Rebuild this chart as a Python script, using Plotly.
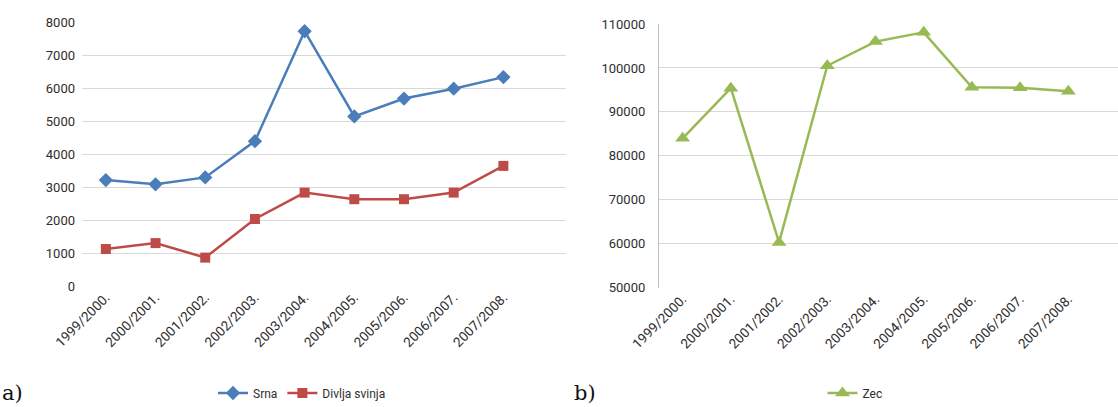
import plotly.graph_objects as go

seasons = ["1999/2000.", "2000/2001.", "2001/2002.", "2002/2003.", "2003/2004.",
           "2004/2005.", "2005/2006.", "2006/2007.", "2007/2008."]
srna = [3210, 3080, 3290, 4390, 7720, 5140, 5680, 5980, 6330]
divlja_svinja = [1120, 1300, 860, 2030, 2830, 2630, 2630, 2830, 3640]
zec = [84000, 95400, 60300, 100500, 106000, 108100, 95600, 95500, 94700]

left_ticks = [0, 1000, 2000, 3000, 4000, 5000, 6000, 7000, 8000]
right_ticks = [50000, 60000, 70000, 80000, 90000, 100000, 110000]

W, H = 1118, 407
FONT = "Roboto, 'Open Sans', sans-serif"
TICK_COL = "#2e2e2e"
GRID = "#d9d9d9"

fig = go.Figure()
fig.add_trace(go.Scatter(x=seasons, y=srna, name="Srna", mode="lines+markers",
                         line=dict(color="#4a7ebb", width=2.5),
                         marker=dict(symbol="diamond", size=11, color="#4a7ebb"),
                         xaxis="x", yaxis="y", legend="legend"))
fig.add_trace(go.Scatter(x=seasons, y=divlja_svinja, name="Divlja svinja", mode="lines+markers",
                         line=dict(color="#be4b48", width=2.5),
                         marker=dict(symbol="square", size=10, color="#be4b48"),
                         xaxis="x", yaxis="y", legend="legend"))
fig.add_trace(go.Scatter(x=seasons, y=zec, name="Zec", mode="lines+markers",
                         line=dict(color="#98b954", width=2.5),
                         marker=dict(symbol="triangle-up", size=13, color="#98b954"),
                         xaxis="x2", yaxis="y2", legend="legend2"))

def px_x(p):
    return p / W

def px_y(p):
    return (H - p) / H

fig.update_layout(
    width=W, height=H,
    margin=dict(l=0, r=0, t=0, b=0, autoexpand=False),
    paper_bgcolor="white", plot_bgcolor="white",
    font=dict(family=FONT, size=13, color=TICK_COL),
    xaxis=dict(domain=[px_x(82), px_x(566)], type="category", range=[-0.48, 9.26],
               tickangle=-45, showgrid=False, showline=False, ticks="", automargin=False,
               tickfont=dict(size=13.5, color=TICK_COL), anchor="y"),
    yaxis=dict(domain=[px_y(286), px_y(22)], range=[0, 8000], tickvals=left_ticks,
               tickformat="d", automargin=False,
               showgrid=True, gridcolor=GRID, gridwidth=1.3, zeroline=False,
               showline=False, ticks="", ticklabelstandoff=6,
               tickfont=dict(size=13, color=TICK_COL), anchor="x"),
    xaxis2=dict(domain=[px_x(659), 1.0], type="category", range=[-0.49, 9.03],
                tickangle=-45, showgrid=False, showline=False, ticks="", automargin=False,
                tickfont=dict(size=13.5, color=TICK_COL), anchor="y2"),
    yaxis2=dict(domain=[px_y(287.7), px_y(24)], range=[50000, 110000], tickvals=right_ticks,
                tickformat="d", automargin=False,
                showgrid=True, gridcolor=GRID, gridwidth=1.3, zeroline=False,
                showline=True, linecolor="#bfbfbf", linewidth=1.3, ticks="",
                ticklabelstandoff=10,
                tickfont=dict(size=13, color=TICK_COL), anchor="x2"),
    legend=dict(orientation="h", x=px_x(302), y=px_y(393), xanchor="center", yanchor="middle",
                font=dict(size=12, color=TICK_COL), bgcolor="rgba(0,0,0,0)",
                itemwidth=30, tracegroupgap=0),
    legend2=dict(orientation="h", x=px_x(855), y=px_y(393), xanchor="center", yanchor="middle",
                 font=dict(size=12, color=TICK_COL), bgcolor="rgba(0,0,0,0)",
                 itemwidth=30),
    showlegend=True,
    annotations=[
        dict(text="a)", x=0, y=px_y(393), xref="paper", yref="paper", xanchor="left",
             yanchor="middle", showarrow=False,
             font=dict(family="'DejaVu Serif', 'Liberation Serif', serif", size=21, color="#111111")),
        dict(text="b)", x=px_x(572), y=px_y(393), xref="paper", yref="paper", xanchor="left",
             yanchor="middle", showarrow=False,
             font=dict(family="'DejaVu Serif', 'Liberation Serif', serif", size=21, color="#111111")),
    ],
)

fig.write_html("out.html", config={"displayModeBar": False},
               post_script="document.body.style.margin='0';document.body.style.overflow='hidden';")
